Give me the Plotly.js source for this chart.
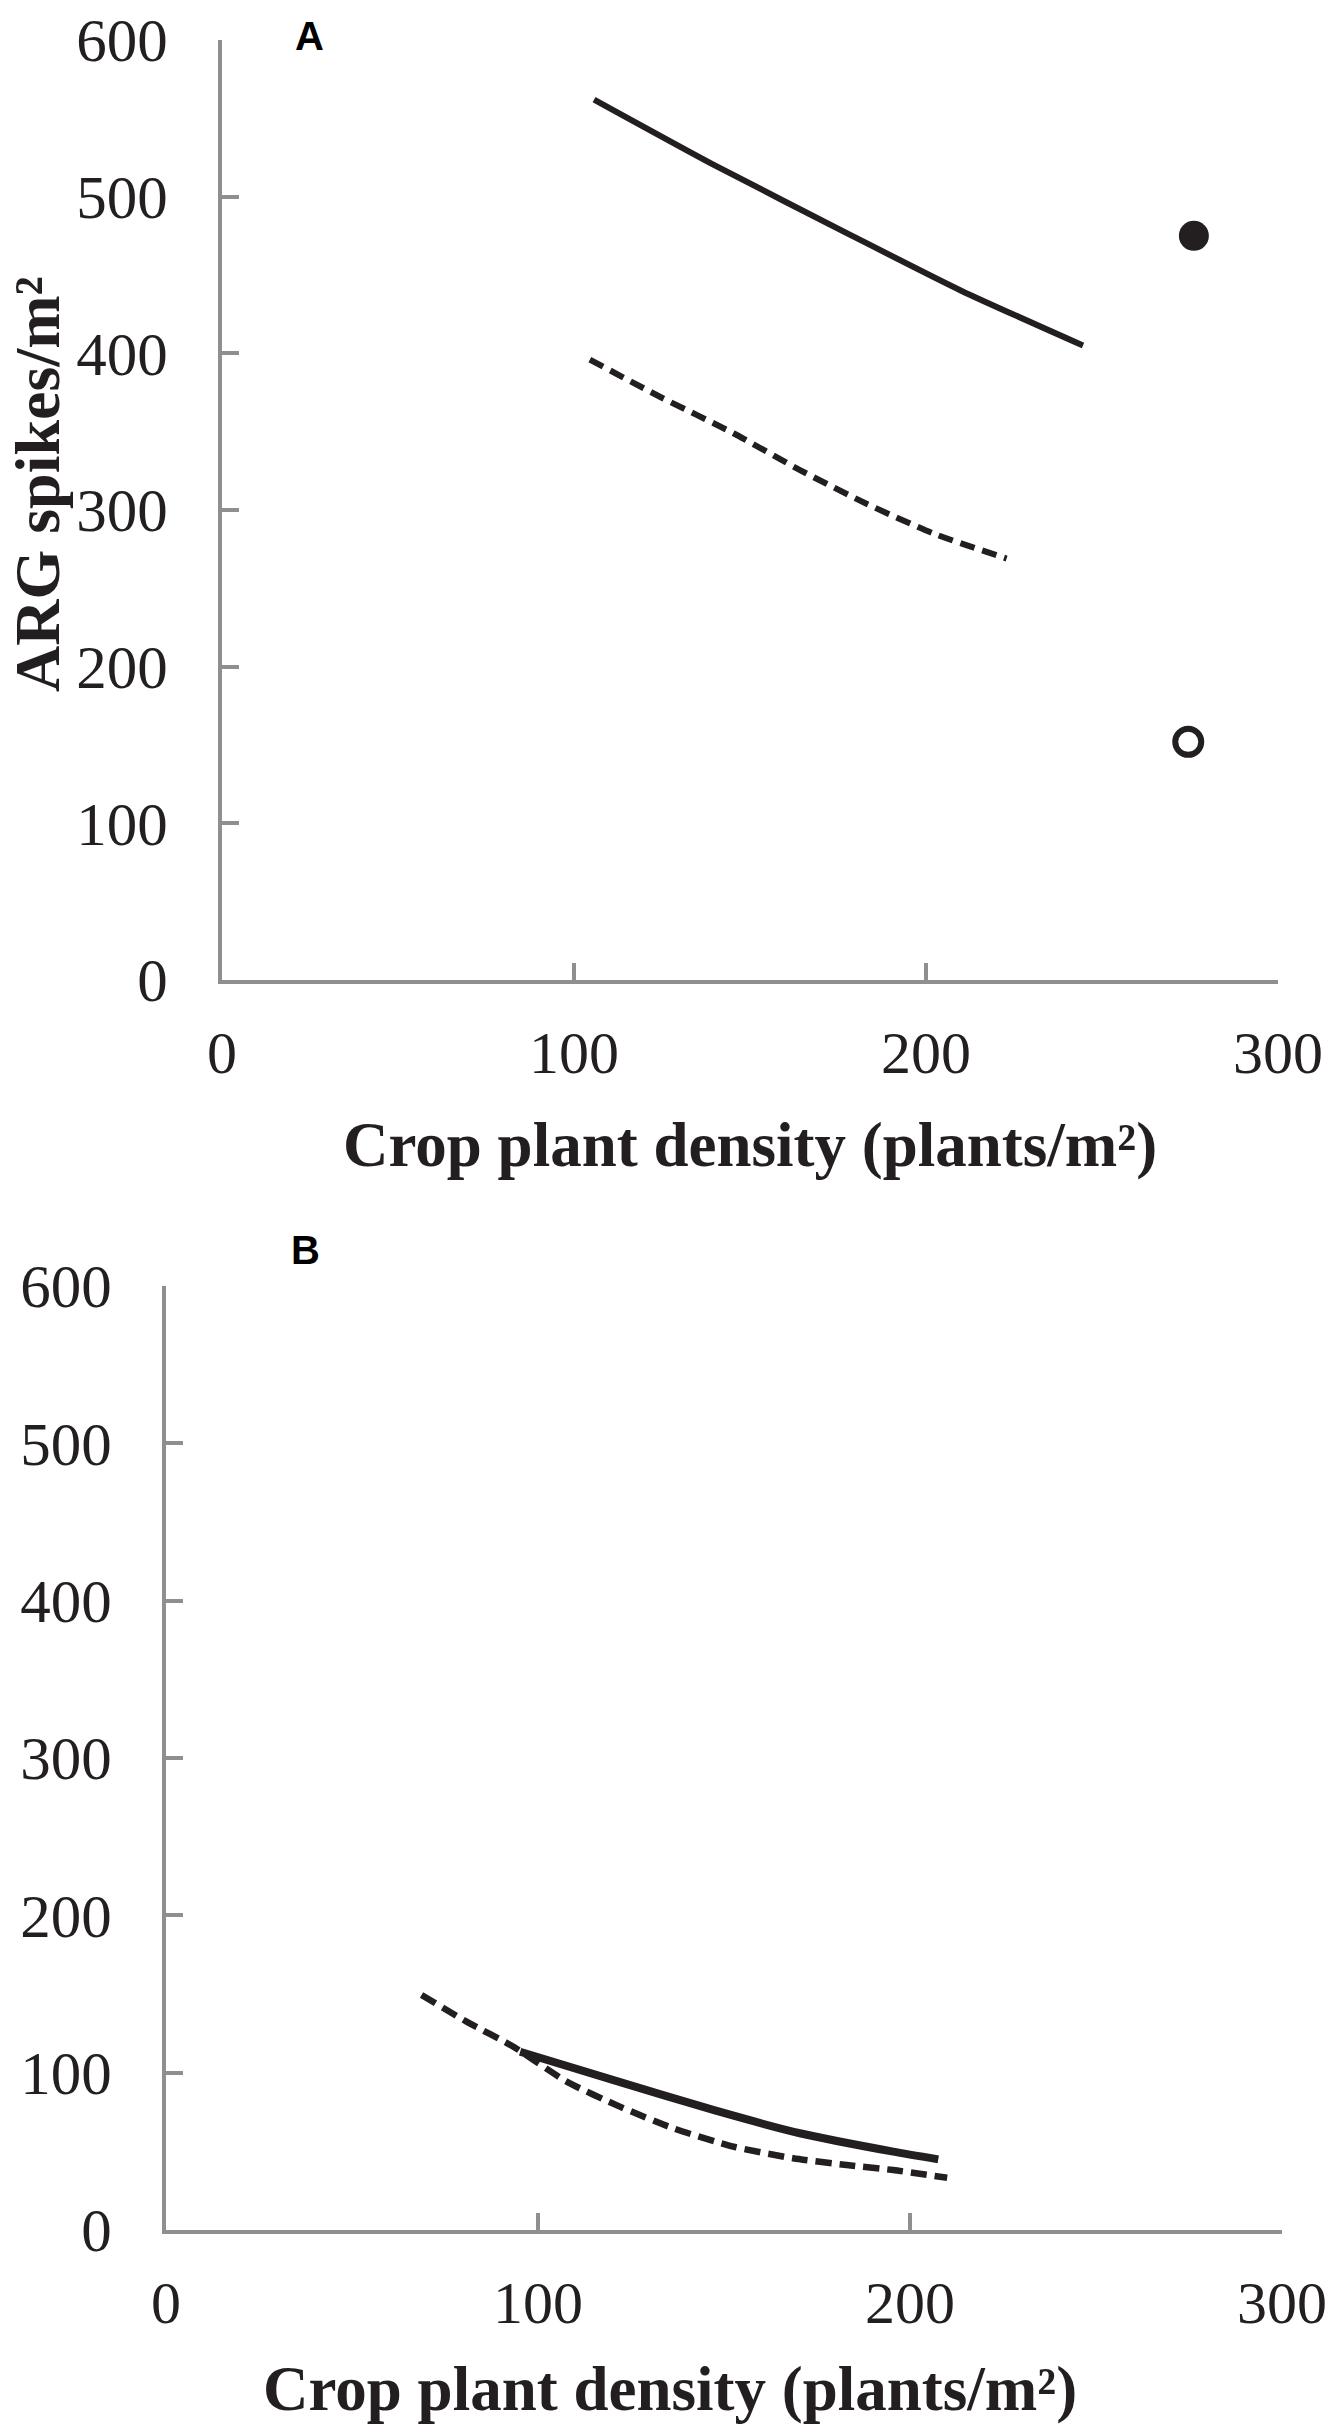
<!DOCTYPE html>
<html>
<head>
<meta charset="utf-8">
<script src="https://cdn.plot.ly/plotly-3.0.1.min.js"></script>
<style>
html,body{margin:0;padding:0;background:#fff;}
#chart{width:1336px;height:2436px;}
</style>
</head>
<body>
<div id="chart"></div>
<script>
// ---- Panel A data ----
const xA_solid = [105.7, 140, 178.6, 210, 244.6];
const yA_solid = [562, 520, 475.5, 440, 405];
const xA_dashed = [104.5, 124.4, 145.3, 164.2, 183.1, 202.1, 222.9];
const yA_dashed = [396, 372.3, 349, 325.5, 304, 285, 269];
const xA_filled = [276.1];
const yA_filled = [475];
const xA_open = [274.5];
const yA_open = [152];

// ---- Panel B data ----
const xB_solid = [95.2, 120.3, 147.1, 170.4, 195.5, 207.6];
const yB_solid = [113.3, 95.3, 76.3, 61.5, 49.8, 44.9];
const xB_dashed = [68.7, 80.8, 93.4, 107.7, 122, 136.4, 152.5, 168.6, 183, 195.5, 210];
const yB_dashed = [149.4, 132.4, 116.5, 94.3, 78.4, 64.6, 53, 45.6, 41.3, 38.1, 33.2];

// ---- Axis ticks / labels ----
const xTicks = [0, 100, 200, 300];
const yTicks = [0, 100, 200, 300, 400, 500, 600];
const xTitle = 'Crop plant density (plants/m²)';
const yTitle = 'ARG spikes/m²';
const panelLabels = ['A', 'B'];

const W = 1336, H = 2436;
const ink = '#231f20';
const axisGray = '#8f8f8f';
const serif = '"Liberation Serif", "Times New Roman", serif';
const sans = '"Liberation Sans", Arial, sans-serif';

const traces = [
  {x: xA_solid, y: yA_solid, xaxis: 'x', yaxis: 'y', mode: 'lines',
   line: {color: ink, width: 6, shape: 'spline', smoothing: 0.6}},
  {x: xA_dashed, y: yA_dashed, xaxis: 'x', yaxis: 'y', mode: 'lines',
   line: {color: ink, width: 6, dash: '15px,8px', shape: 'spline', smoothing: 0.6}},
  {x: xA_filled, y: yA_filled, xaxis: 'x', yaxis: 'y', mode: 'markers',
   marker: {color: ink, size: 30, line: {width: 0}}},
  {x: xA_open, y: yA_open, xaxis: 'x', yaxis: 'y', mode: 'markers',
   marker: {color: '#ffffff', size: 26, line: {color: ink, width: 6}}},
  {x: xB_solid, y: yB_solid, xaxis: 'x2', yaxis: 'y2', mode: 'lines',
   line: {color: ink, width: 8, shape: 'spline', smoothing: 0.6}},
  {x: xB_dashed, y: yB_dashed, xaxis: 'x2', yaxis: 'y2', mode: 'lines',
   line: {color: ink, width: 6.5, dash: '16px,8px', shape: 'spline', smoothing: 0.6}}
];

function xAxis(domain, anchor) {
  return {
    domain: domain, anchor: anchor, range: [0, 300], tickvals: xTicks,
    ticktext: xTicks.map(String),
    showline: true, linecolor: axisGray, linewidth: 4,
    ticks: 'inside', ticklen: 17, tickwidth: 4, tickcolor: axisGray,
    showgrid: false, zeroline: false, fixedrange: true,
    ticklabelstandoff: 17,
    tickfont: {family: serif, size: 60, color: ink}
  };
}
function yAxis(domain, anchor) {
  return {
    domain: domain, anchor: anchor, range: [0, 600], tickvals: yTicks,
    ticktext: yTicks.map(String),
    showline: true, linecolor: axisGray, linewidth: 4,
    ticks: 'inside', ticklen: 17, tickwidth: 4, tickcolor: axisGray,
    showgrid: false, zeroline: false, fixedrange: true,
    ticklabelstandoff: 38,
    tickfont: {family: serif, size: 61, color: ink}
  };
}

const layout = {
  width: W, height: H,
  margin: {l: 0, r: 0, t: 0, b: 0, pad: 0},
  paper_bgcolor: '#ffffff', plot_bgcolor: '#ffffff',
  showlegend: false,
  xaxis: xAxis([222 / W, 1278 / W], 'y'),
  yaxis: yAxis([1 - 980 / H, 1 - 40 / H], 'x'),
  xaxis2: xAxis([166 / W, 1282 / W], 'y2'),
  yaxis2: yAxis([1 - 2230 / H, 1 - 1286 / H], 'x2'),
  annotations: [
    {text: '<b>' + panelLabels[0] + '</b>', xref: 'paper', yref: 'paper',
     x: 309 / W, y: 1 - 36 / H, xanchor: 'center', yanchor: 'middle', showarrow: false,
     font: {family: sans, size: 40, color: '#000'}},
    {text: '<b>' + panelLabels[1] + '</b>', xref: 'paper', yref: 'paper',
     x: 305 / W, y: 1 - 1250 / H, xanchor: 'center', yanchor: 'middle', showarrow: false,
     font: {family: sans, size: 40, color: '#000'}},
    {text: '<b>' + xTitle + '</b>', xref: 'paper', yref: 'paper',
     x: 750 / W, y: 1 - 1145 / H, xanchor: 'center', yanchor: 'middle', showarrow: false,
     font: {family: serif, size: 63, color: ink}},
    {text: '<b>' + xTitle + '</b>', xref: 'paper', yref: 'paper',
     x: 670 / W, y: 1 - 2389 / H, xanchor: 'center', yanchor: 'middle', showarrow: false,
     font: {family: serif, size: 63, color: ink}},
    {text: '<b>' + yTitle + '</b>', xref: 'paper', yref: 'paper', textangle: -90,
     x: 38 / W, y: 1 - 484 / H, xanchor: 'center', yanchor: 'middle', showarrow: false,
     font: {family: serif, size: 64, color: ink}}
  ]
};

Plotly.newPlot('chart', traces, layout, {displayModeBar: false, staticPlot: true});
</script>
</body>
</html>
